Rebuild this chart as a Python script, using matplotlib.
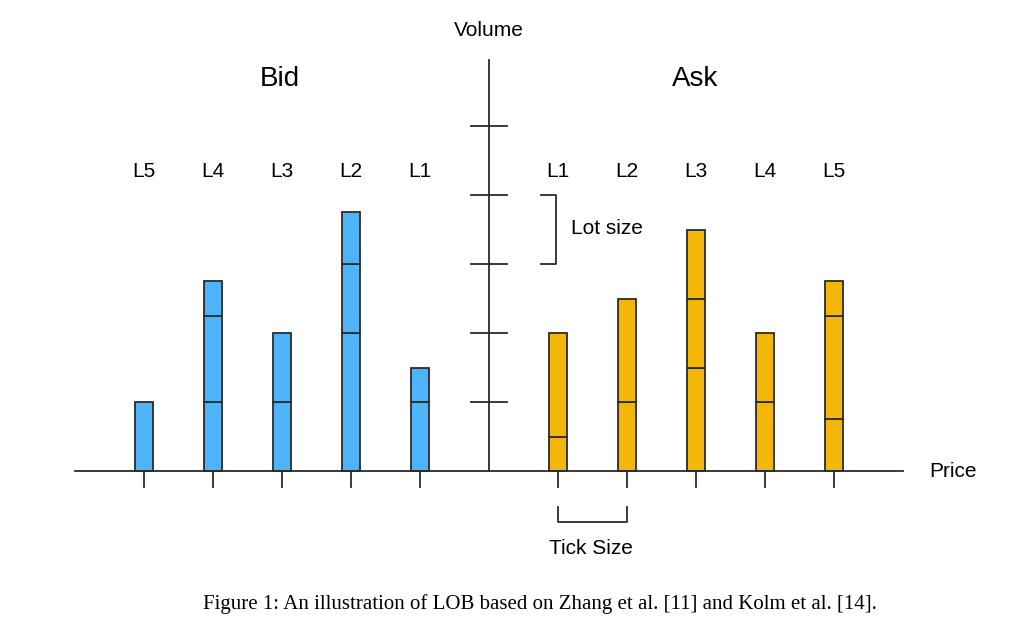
import matplotlib.pyplot as plt

# price levels (bid negative, ask positive) and the stacked order volumes at each level
bid_levels = [-5, -4, -3, -2, -1]
bid_orders = [[1.0], [1.0, 1.25, 0.5], [1.0, 1.0], [2.0, 1.0, 0.75], [1.0, 0.5]]
ask_levels = [1, 2, 3, 4, 5]
ask_orders = [[0.5, 1.5], [1.0, 1.5], [1.5, 1.0, 1.0], [1.0, 1.0], [0.75, 1.5, 0.5]]
level_labels = ["L5", "L4", "L3", "L2", "L1", "L1", "L2", "L3", "L4", "L5"]
volume_ticks = [1, 2, 3, 4, 5]

BLUE = "#4db5f7"
ORANGE = "#f5b60a"
EDGE = "#2b2b2b"

plt.rcParams["font.family"] = ["Liberation Sans", "DejaVu Sans"]
fig = plt.figure(figsize=(10.24, 6.23), dpi=100)
ax = fig.add_axes([0, 0, 1, 1])
ax.set_xlim(-7.09, 7.75)
ax.set_ylim(-2.2, 6.83)
ax.axis("off")


def stack(levels, orders, color):
    for x, parts in zip(levels, orders):
        bottom = 0
        for h in parts:
            ax.bar(x, h, width=0.26, bottom=bottom, color=color, edgecolor=EDGE, linewidth=1.3)
            bottom += h


stack(bid_levels, bid_orders, BLUE)
stack(ask_levels, ask_orders, ORANGE)

# axes
ax.plot([-6.0, 6.0], [0, 0], color=EDGE, lw=1.3)
ax.plot([0, 0], [0, 5.96], color=EDGE, lw=1.3)
for v in volume_ticks:
    ax.plot([-0.26, 0.26], [v, v], color=EDGE, lw=1.3)
for x in bid_levels + ask_levels:
    ax.plot([x, x], [0, -0.23], color=EDGE, lw=1.3)

ax.text(0, 6.39, "Volume", ha="center", va="center", fontsize=15)
ax.text(6.72, 0.0, "Price", ha="center", va="center", fontsize=15)
ax.text(-3.03, 5.68, "Bid", ha="center", va="center", fontsize=20)
ax.text(2.99, 5.68, "Ask", ha="center", va="center", fontsize=20)
for x, lab in zip(bid_levels + ask_levels, level_labels):
    ax.text(x, 4.35, lab, ha="center", va="center", fontsize=15)

# lot size bracket
ax.plot([0.75, 0.97, 0.97, 0.75], [4, 4, 3, 3], color=EDGE, lw=1.3)
ax.text(1.19, 3.52, "Lot size", ha="left", va="center", fontsize=15)

# tick size bracket
ax.plot([1, 1, 2, 2], [-0.52, -0.74, -0.74, -0.52], color=EDGE, lw=1.3)
ax.text(1.48, -1.12, "Tick Size", ha="center", va="center", fontsize=15)

ax.text(0.74, -1.93, "Figure 1: An illustration of LOB based on Zhang et al. [11] and Kolm et al. [14].",
        ha="center", va="center", fontsize=15, family=["Liberation Serif", "DejaVu Serif"])

fig.savefig("out.png", dpi=100)
